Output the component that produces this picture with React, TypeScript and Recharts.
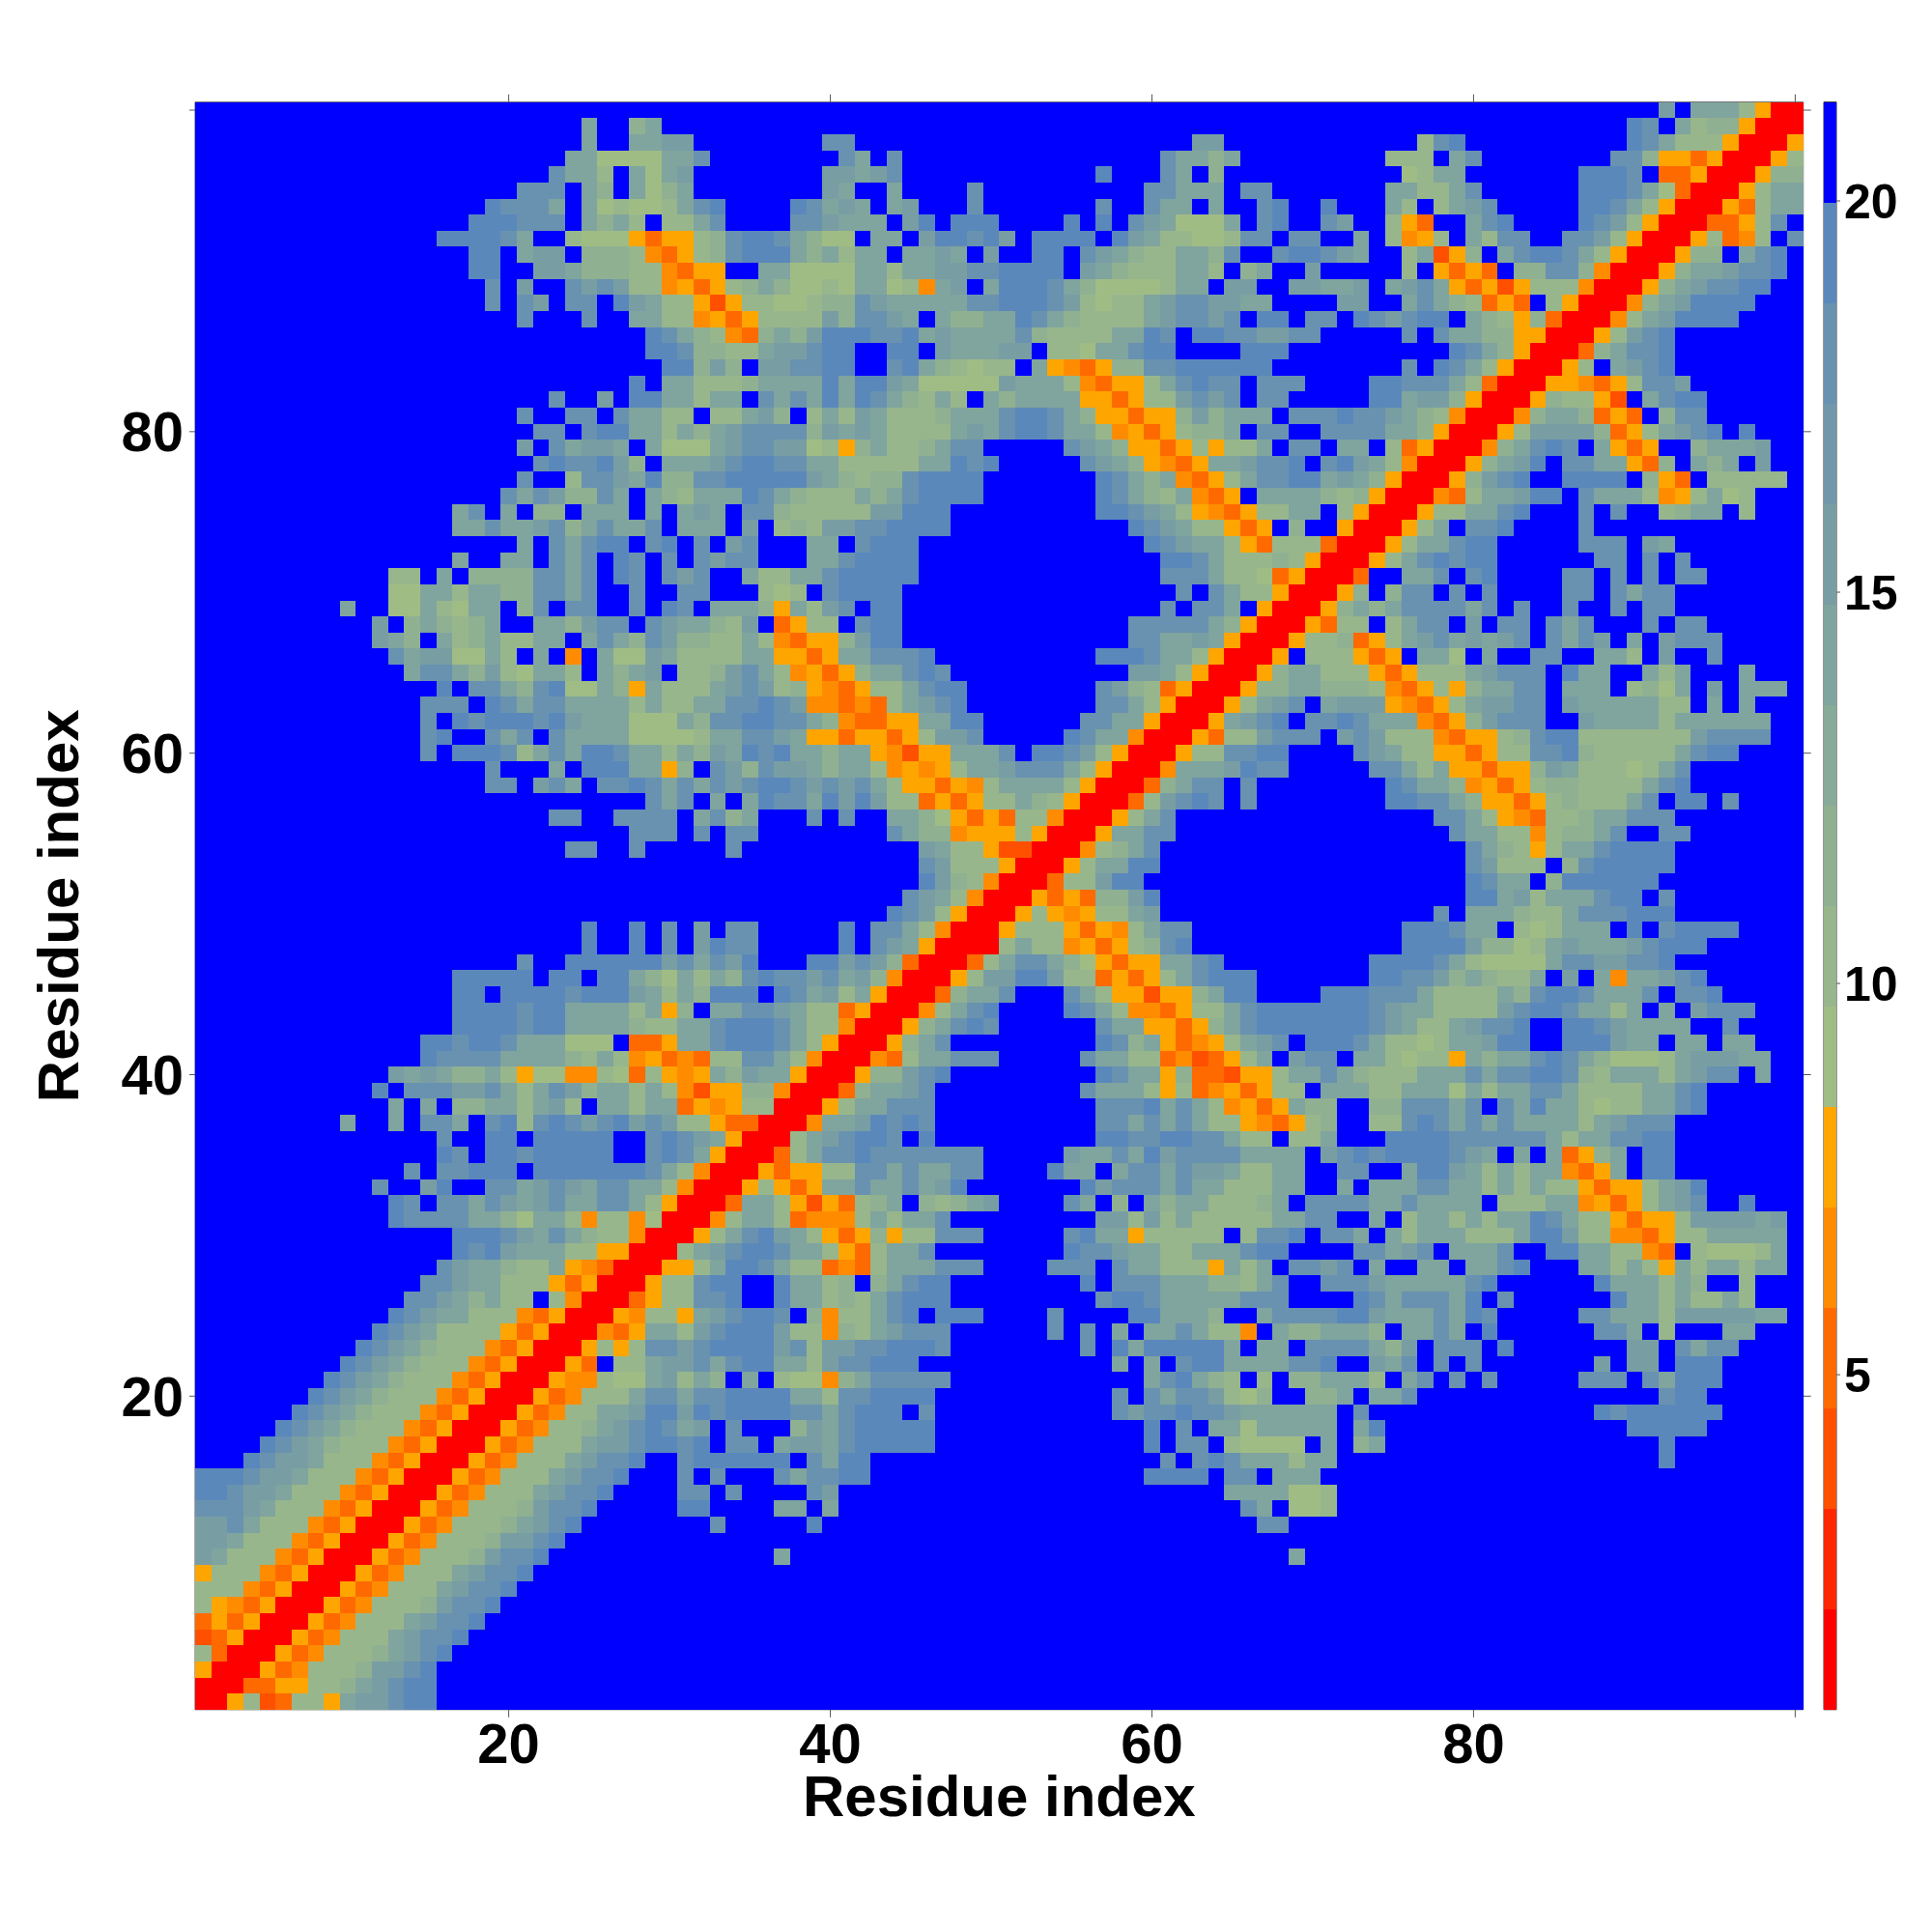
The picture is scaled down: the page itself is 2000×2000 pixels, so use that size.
import React from "react";
import { ScatterChart, Scatter, XAxis, YAxis, ReferenceArea } from "recharts";

// Distance levels of the colour bar, lowest first; the last level is "out of range" blue.
const LEVEL_COLORS = ["#ff0000","#ff2800","#ff5000","#ff6a00","#ff8c00","#ffa500","#a0bc85","#98b68c","#90b092","#88aa98","#80a49e","#789ea4","#7098aa","#6892b0","#5b88bb","#0000ff"];
const LEVEL_BASE = 0.72;
const LEVEL_STEP = 1.284;
const AXIS_TICKS = [20, 40, 60, 80, 100];
const BAR_TICKS = [5, 10, 15, 20];
const AXIS_TITLE = "Residue index";

// Symbols used in the rows below, and the colour-bar level each one was read as.
const SYMBOLS = "0123456789abcdef";
const SYMBOL_LEVELS = [0, 1, 2, 3, 4, 5, 6, 6, 7, 8, 10, 11, 13, 14, 14, 15];

// One string per row, from residue 100 down to residue 1: "startColumn:symbols".
// Columns that are not listed are symbol f (blue).
const rows100to76 = [
"92:bfaaa8500",
"25:a 28:9a 90:dcfa8995000",
"25:a 28:aabb 40:cc 63:bb 77:8cd 90:dca88850005",
"24:aa7777aac 41:ca 44:c 61:caa9a 75:888fac 89:cc9553500058",
"23:caa8fa7ab 40:bbabc 57:d 61:caf9 76:78aa 87:dddcf335000599",
"21:cccfa9fa79a 40:baffa 49:c 60:ccaaa 66:cc 75:aa88ac 87:dddca7300058aa",
"19:dcccafa78778acd 38:dcabafab 49:c 57:c 60:caafa 67:cd 71:d 75:a8f8abc 87:ddca85000538aa",
"18:dddcccfa9a8f88ac 38:ccbaaafbdfddd 55:d 57:d 59:cba777a 67:cd 71:cb 75:853ffacd 87:dcb850003358c",
"16:ddddcaff877753558 33:9cddca977faafbddcd 51:bfddddfdba 61:88778ccfcc 71:ffaf8458fa 81:8ccffccb85 91:00058348fc",
"18:ddfabbf999 28:843589cddd 38:a9a8aafaab 48:afb 51:ffddfcba98 61:8aa9cffcdd 71:cbaff8a259 81:facddca850 91:00599facdf",
"18:ddffbba999 28:884355ffaa 38:7777aa8aab 48:bcc 51:ddddfba988 61:8aa8f9affb 76:8f535 81:3f99cc9400 91:059aabccdf",
"19:cfbffcbcb 28:88453589a9 38:7787aa784a 48:bfa 51:dddca97777 61:8aafbbffbb 71:aabfabca53 81:5258884000 91:59abccdd",
"19:cfcbfccfd 28:ba88525887 38:7899cbaaaa 48:acc 51:dddcb8788a 61:bccbbaafff 71:fbbffaca98 81:353f850004 91:9abdddd",
"21:c 25:c 28:aa88453588 38:88b9ccbafa 48:99a 51:adca98888a 61:bccbcfddfc 71:cfdcbcddfa 81:9859300048 91:abdddd",
"29:dca98439a 38:9bdddccdab 48:aaa 51:ac98888aad 61:cfddccbbcc 76:cfcaa 81:995500058b 91:cd",
"29:ddc9988ab 38:bcddffddfb 48:aaa 51:bbf887aacd 61:dffffddd 79:dc 81:a9500039ac 91:cd",
"30:dd9b9fbb 38:ccddffcda9 48:878 51:8fa543599c 61:cdddddd 76:cfdca 81:8500058fab 91:cd",
"28:dfaa8889aa 38:aadaddba77 48:777 51:baaa843558 61:acdccfccc 74:ddccca8 81:3000554358 91:ccb",
"23:c 26:b 28:ddaa8aafca 38:cadadca98a 48:8fa 51:9aaaa55358 61:8bcbcfcc 74:ddabb95 81:000598852f 91:acdd",
"21:c 24:ccfc 28:aa88f88ab9 38:f8a8ba8889 48:aaa 51:cddca95535 61:59b9aaafcc 71:cdccba9840 81:0049aa9353 91:f9cc",
"22:ccfcdd 28:aa8a9abccc 38:c9baba8888 48:aba 51:cddcaa8453 61:5899afccff 71:ccccaa9500 81:058bbbb935 91:8abcdfd",
"21:bfcabbafa7 31:77abccbb78 41:59a889accf 55:cba955 61:358588afcc 71:faaf835000 81:49acdcfa53 91:5ff9aaab",
"22:cdccdb9fa 31:aabcddccaa 41:88888aadcd 56:cba95 61:435aabccdf 71:cdba840005 81:9abdfccaa5 91:39fa9afb",
"21:cff8ccbad9 31:9ccdddddba 41:9899cddddf 57:dca9 61:a4358accdd 71:aba9500059 81:bcdffddddf 91:953f88888",
"20:cacb99cafa9 31:8aaadca988 41:8a9acdddd 57:dca9 61:8a435faaaa 71:9895000438 81:aabddfcaaa 91:8458a78",
];
const rows75to51 = [
"17:acfaf99faaafaf 31:abafcc9888 41:88bbddd 57:ddcb 61:a8543588aa 71:f85000588a 81:acdfffcfcf 91:f89aaf8",
"17:aacaabc9acaacf 31:aaafbf898b 41:bccdddd 59:dc 61:ba88535f9f 71:f500058afc 81:cd 87:c",
"21:afcacddfcd 31:fcfbcfffaa 41:fcddd 60:dcbaa853888 71:300058aacd 81:d 87:ccc 91:ba",
"17:a 20:aafcacfdcfc 31:fcbccfffaa 41:cdddd 61:ddca888985 71:00058acdcd 81:d 88:cc 91:cfc",
"13:88faf999 21:9ccacfdcfc 31:bcffa88aac 41:ddddd 61:ccca887350 71:003ffaacfc 81:d 86:cc 89:c 91:cfcc",
"13:77aa8aa9 21:9ccacffcff 31:ccfff878fc 41:dddd 61:fcfca88500 71:059f9ccfcf 81:c 86:cc 89:ca 91:cc",
"10:a 13:77a87aaf 21:9cfccffcfd 31:cfaaa95a8b 41:cfdd 61:cfccaf5000 71:59a9acccca 81:cfc 86:c 89:c 91:cc",
"12:bf9a989af 21:faa9bccfcb 31:aa98bf3588 41:fcdd 59:cc 61:ccca950005 71:388f8accfb 81:fccfcacfff 91:cfcc",
"12:ba9fa89a8 21:8aafaca9cb 31:9988a84355 41:9bdd 59:cc 61:aaba500058 71:89358abcab 81:abcfcacbfa 91:fbccc",
"13:cabb77a8 21:faf4fa77ba 31:8888aa5535 41:aacccd 57:dddc 61:aa850005f8 71:88535faa7f 81:affccffaa8 91:fbffc",
"14:acca9b8 21:7aa8fa9abf 31:889bca8453 41:59aacdc 59:bb 61:a8500059aa 71:888535888a 81:bcccfdaaff 91:a8afffa",
"16:dfcca 21:9cd77a95a8 31:88abcb8954 41:3588acdd 57:cb98 61:35000599aa 71:9998435859 81:aaccfaaaf8 91:97afbfaaa",
"15:cccfdc 21:accaaaa8a8 31:8aaccdcb44 41:3438abcd 57:cca8 61:500058abcf 71:abbb54358a 81:bbccfbaaaa 91:a88fafa",
"15:cfdcdd 21:dcdbaaa777 31:a9ccddcca9 41:43355aadd 56:ccaa5 61:0005abcdfc 71:cdcaaa4359 81:bcccffbaaa 91:a8aaaaaa",
"15:cdffca 21:cfcaaaa777 31:78aaccba55 41:355358bbc 55:dcaa40 61:005388bccc 71:fbcb888435 81:589cdd8888 91:888bcccc",
"15:cfdddc 21:8acaddcaa8 31:a9badcdaa9 41:aa54255aaa 51:cfddcb8500 61:0588ccdd 73:cba88553 81:588ccd9888 91:88acdd",
"19:cfffafdddaa5 31:9fcb9cbba9 41:aa845458aa 51:bccca85000 61:4aaabdcc 74:cca8a55 81:3559ba8887 91:8ac",
"19:ccfbcafccdca 31:cacbcddcbc 41:bca8553548 51:aaaa850003 61:9accfc 75:dcaa94 81:5358998888 91:acd",
"29:cacfafadccad 41:bdb8835358 51:8a98500038 61:bcdcfc 75:ddcca9 81:553589888a 91:cfddfc",
"23:cc 27:cccc 32:ac9a 39:c 41:c 44:aa97535 51:388400058a 61:c 78:cca 81:8543889aac 91:cc",
"28:ccc 32:c 34:cc 44:ca99455 51:5850005aac 61:c 79:ca 81:a884899acf 91:fcc",
"24:cc 28:c 34:c 46:ba885 51:22000489ac 80:ca9858aacdd 91:dd",
"46:cb888 51:500058aadd 80:cb888f9cddddd",
"46:db984 51:000388bdd 80:dcaaf9dddddd",
"45:cba840 51:00535399bd 80:ddab8aaacddfc",
];
const rows50to26 = [
"44:dcb8500 51:05854588ab 78:cfa 81:aa988acccd 91:dd",
"25:d 28:d 30:c 32:b 34:cc 41:d 43:cca84000 51:588853548a 61:cc 76:dddca 81:af878aaafd 91:fcdddd",
"25:d 28:d 30:c 32:bdcc 41:d 43:cba500005 51:8a88453589 61:cd 76:ddddb 81:9978abaaab 91:cddd",
"21:c 24:ddddddbcacbd 39:ddbcb9300038 51:acca975355 61:aacd 74:ddddca8 81:7777accbbc 91:cd",
"17:dddddfddfdd 28:a97a8a9cdc 38:cbcab94000 48:58b 51:bddb883535 61:8acddd 74:ddccb9a 81:988afbfa4a 91:abcd",
"17:ddfddddcddd 28:ba8a9dddfd 38:cab8a50003 48:9aa 51:c 55:ca8552 61:559add 71:dddccca888 81:8a9cddcaaa 91:cfccd",
"17:ddddcdd 24:aaaa8a59fa 34:accba88350 44:00 46:48acd 55:dca844 61:3588acdddd 71:dddcbaa888 81:8bcddcaa8a 91:fafbccc",
"17:ddddcdd 24:aaaa988aac 34:dddca88400 44:059acdc 57:caa5 61:5359acdddd 71:dddcba88ab 81:ccdffddcba 91:aaaffc",
"15:ddcddcaaa 24:777f335aac 34:dddca85000 44:59ac 57:dc9a 61:53458abcfd 71:ddca8878aa 81:bddffdddba 91:afaafaa",
"15:dccccaaaa 24:98a8453438 34:8cca840004 44:38aaccc 56:caa88 61:342358afbc 71:cfaa87885a 81:9aacdca977 91:78abbbaa",
"13:baba99a8 21:5774487385 31:45a9baa500 41:059 44:9bcd 57:dcaa 61:59332558aa 71:ca9888aaac 81:accddc98aa 91:a8abccfa",
"12:dfcccbbca 21:8acb9aa8a8 31:4255994000 41:39aabc 56:caaa8 61:583453588f 71:aaa88aaa7a 81:8aacca8888 91:aacd",
"13:afaf99aa 21:8ab8faa8aa 31:3545880005 41:8aaccc 57:cccd 61:aca84535a9 71:9ff99cccac 81:fcadaa8788 91:aacd",
"10:a 13:afccafcd 21:8cdcbcdbcb 31:885330004a 41:abdcdc 57:ccac 61:aca8854358 71:9ff88cdcac 81:acaaaa8abc 91:cc",
"16:cffdd 21:fdddddffcd 31:cba50008ab 41:cddcfd 57:ddcc 61:ddcca88f88 71:afffddddcc 81:cccca8aacc 91:dd",
"16:dcfdd 21:cdddddffcd 31:ca500038ac 41:cdccccccc 55:baacad 61:bccccaaaaf 71:bcdcddddcb 81:afafa359af 91:dd",
"14:cfccddd 21:fdddddddca 31:8400053558 41:8ccacaacc 54:daafacc 61:acbba88aaf 71:fccffaddba 81:8a8aa435af 91:dd",
"12:cffbdffcc 21:abcbaccaa8 31:400058535a 41:acaacabd 56:dbccc 61:acaa888aaf 71:fafaaaccaa 81:8a8a885355 91:8abd",
"13:dcfccacb 21:abcaacca85 31:0003aa8525 41:389af989ab 55:caf9fa 61:9aa8889afc 71:cccaacaaaa 81:f888aa4535 91:8abcffd",
"13:dccccaa9 21:7aa8488470 31:0048aa8344 41:48a8aac 57:bb8b 61:8a88888aac 71:cffaf8aa8a 81:8aadca8853 91:558bbbbab",
"17:dddc 21:baca988400 31:058acdba85 41:3595 45:88ccc 55:cdaa58 61:8888f8ccdf 71:ccafa8aaa8 81:88addb8844 91:3588aaaaa",
"17:dcdb 21:aaa8855000 31:8abcddcaa8 41:538aac 55:dccbaa 61:88aaacdd 73:ccabcfaa 81:acffddaa88 91:43f87778a",
"16:cbaa9 21:88a5430005 31:58addca883 41:4 42:38aaaccc 54:cccfcaa 61:8885a8afcc 71:bcfaffaafa 81:acd 87:aa8a 91:85a8aa8aa",
"15:ccbaa8 21:8853500058 31:8cddffdaa8 41:9f9acdd 56:dfccc 61:aaa998acff 71:cccbaaaaac 81:d 88:daa 91:a8a9ff8",
"14:ccba9a8 21:8f84000358 31:8ccdffdaa8 41:98acddd 57:cddc 61:aaaaaccc 73:dcacccad 81:fc 89:da 91:a8a88a8",
];
const rows25to1 = [
"13:dcbaa888 21:4350005488 31:5abcddcf94 41:88acdfddd 54:c 59:dd 61:aaa9ffaccc 71:cddbaaacad 81:c 87:ccaa 91:a8bbbbbaa",
"12:dcba88885 21:35000435aa 31:8bcdddb884 41:98abccc 54:c 56:c 58:afa 61:aca884fa99 71:aaa9faacaf 81:d 88:cca 91:f8fffaa",
"11:dcba98884 20:3 21:50005858cc 31:bcddddbc8b 41:bccdddc 56:c 58:dad 61:ddddafaafc 71:ccca9bfccc 81:fd 90:b 91:bfcacc",
"10:dcba98884 19:35 21:00053f88ab 31:bcacddaa8b 41:ccddd 58:afa 61:fcddaaaacc 71:dffbacfcfc 88:b 90:bbfddd",
"9:dcba988843 19:50 21:00544877ab 31:8a9faf8774 41:9acccc 46:cc 60:a 61:cda98f8f99 71:aaa8facfcf 81:c 87:ccc 91:caddd",
"8:dcba988843 18:500 21:0534888acc 31:accddddaa8 41:ccdddd 58:cfc 61:accb879ff9 71:9afaac 92:cdd",
"7:dcba988843 17:5000 21:53488aabdd 31:bdcddddcca 41:cdddfc 58:cbc 61:cdccbaaaaa 71:afc 88:dcdddddd",
"6:dcba988843 16:50005 21:34889abcdc 31:abfcfff9ba 41:cddddd 60:d 61:fcfaa7aaaa 71:afad 90:ddddd",
"5:dcba988843 15:500053 21:4888abbcdd 31:cdfccfabba 41:cddddd 60:d 61:fccf87777f 71:af9a 92:d",
"4:dcbba888435 15:000534 21:888abccd 31:cddddddfca 41:dd 61:cfcdcaaa8a 71:a 92:d",
"1:dddcbba888 11:4350005348 21:88abccd 31:cfc 37:caccdd 60:dddd 65:ccfaaa",
"1:ddcbba8884 11:3500053488 21:8abccd 31:cc 34:c 39:cb 65:aaaa778",
"1:cccba88843 11:5000534888 21:9bccd 31:dd 37:aafa 66:caf778",
"1:bbca888435 11:0005348889 21:abcd 33:c 39:d 67:cc",
"1:bba8884350 11:005348889b 21:bcd",
"1:ba88843500 11:05348889bc 21:cd 37:a 69:a",
"1:5888435000 11:534888abcc 21:d",
"1:8884350005 11:34888abccd",
"1:8543500053 11:48889bccd",
"1:3535000534 11:888abccd",
"1:2350005348 11:88abccd",
"1:8300053488 11:89abcd",
"1:5000534888 11:9bbcd",
"1:0003355889 11:abcdd",
"1:005823885a 11:bbcdd",
];

const ROWS = [...rows100to76, ...rows75to51, ...rows50to26, ...rows25to1];

type Cell = { x: number; y: number; level: number };

const cells: Cell[] = [];
ROWS.forEach((row, i) => {
  const line = new Array(100).fill(15);
  row.split(" ").forEach((seg) => {
    const [start, chars] = seg.split(":");
    for (let k = 0; k < chars.length; k++) {
      const col = Number(start) + k;
      if (col <= 100) line[col - 1] = SYMBOL_LEVELS[SYMBOLS.indexOf(chars[k])];
    }
  });
  line.forEach((level, c) => cells.push({ x: c + 1, y: 100 - i, level }));
});

const levels = LEVEL_COLORS.map((color, i) => ({ x: 0.5, y: LEVEL_BASE + (i + 0.5) * LEVEL_STEP, color }));

const CELL = 16.64;
const HeatCell = (p: any) => (
  <rect
    x={p.cx - CELL / 2}
    y={p.cy - CELL / 2}
    width={CELL + 0.4}
    height={CELL + 0.4}
    fill={LEVEL_COLORS[p.payload.level]}
    shapeRendering="crispEdges"
  />
);
const BarCell = (p: any) => (
  <rect x={p.cx - 6.5} y={p.cy - 52.1} width={13} height={104.4} fill={p.payload.color} shapeRendering="crispEdges" />
);
const NoMark = () => <g />;

const LINE = "#555555";
const bold = { fontFamily: "Liberation Sans", fontWeight: "bold", fill: "#000" };
const hide100 = (v: number) => (v === 100 ? "" : String(v));
const noText = () => "";

export default function App() {
  return (
    <div style={{ position: "absolute", left: 0, top: 0, width: 2000, height: 2000, background: "#fff" }}>
      <div style={{ position: "absolute", left: 0, top: 0 }}>
        <ScatterChart width={2000} height={2000} margin={{ top: 85.7, right: 113.3, bottom: 170.2, left: 102 }}>
          <XAxis
            type="number"
            dataKey="x"
            domain={[0.5, 100.5]}
            ticks={AXIS_TICKS}
            interval={0}
            height={60}
            tickSize={8}
            tickMargin={6}
            stroke={LINE}
            tickFormatter={hide100}
            tick={{ ...bold, fontSize: 58 }}
            label={{ value: AXIS_TITLE, position: "bottom", offset: 8, style: { ...bold, fontSize: 60 } }}
          />
          <XAxis xAxisId="top" type="number" dataKey="x" orientation="top" domain={[0.5, 100.5]} ticks={AXIS_TICKS} interval={0} height={20} tickSize={8} stroke={LINE} tickFormatter={noText} />
          <YAxis
            type="number"
            dataKey="y"
            domain={[0.5, 100.5]}
            ticks={AXIS_TICKS}
            interval={0}
            width={100}
            tickSize={6}
            tickMargin={6}
            stroke={LINE}
            tickFormatter={hide100}
            tick={{ ...bold, fontSize: 58 }}
            label={{ value: AXIS_TITLE, angle: -90, position: "left", offset: 42, style: { ...bold, fontSize: 60, textAnchor: "middle" } }}
          />
          <YAxis yAxisId="right" type="number" dataKey="y" orientation="right" domain={[0.5, 100.5]} ticks={AXIS_TICKS} interval={0} width={20} tickSize={8} stroke={LINE} tickFormatter={noText} />
          <Scatter data={cells} isAnimationActive={false} shape={HeatCell} />
          <Scatter data={cells.slice(0, 1)} xAxisId="top" yAxisId="right" isAnimationActive={false} shape={NoMark} />
        </ScatterChart>
      </div>
      <div style={{ position: "absolute", left: 1860, top: 0 }}>
        <ScatterChart width={140} height={2000} margin={{ top: 105.6, right: 0, bottom: 230.2, left: 28 }}>
          <XAxis type="number" dataKey="x" domain={[0, 1]} hide />
          <YAxis
            type="number"
            dataKey="y"
            orientation="right"
            domain={[LEVEL_BASE, LEVEL_BASE + 16 * LEVEL_STEP]}
            ticks={BAR_TICKS}
            interval={0}
            width={99}
            tickSize={4}
            tickMargin={4}
            axisLine={false}
            stroke={LINE}
            tick={{ ...bold, fontSize: 50 }}
          />
          <Scatter data={levels} isAnimationActive={false} shape={BarCell} />
          <ReferenceArea x1={0} x2={1} y1={LEVEL_BASE} y2={LEVEL_BASE + 16 * LEVEL_STEP} fill="none" stroke="#333" strokeWidth={1} />
        </ScatterChart>
      </div>
    </div>
  );
}
